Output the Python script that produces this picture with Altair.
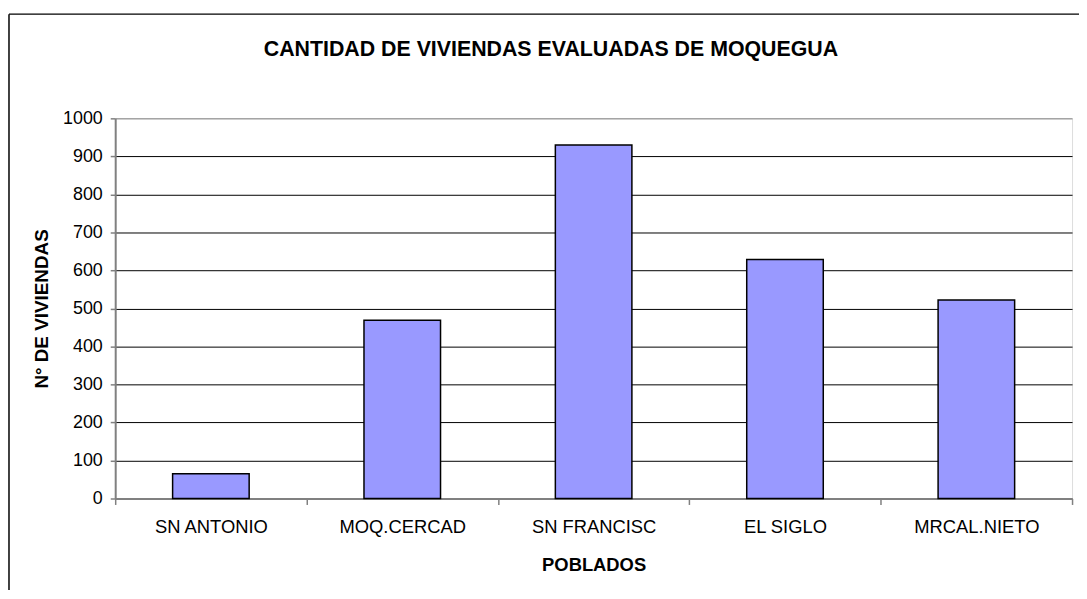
import altair as alt
import pandas as pd

titulo = ["CANTIDAD DE VIVIENDAS EVALUADAS DE MOQUEGUA"]
poblados = ["SN ANTONIO", "MOQ.CERCAD", "SN FRANCISC", "EL SIGLO", "MRCAL.NIETO"]
viviendas = [65, 469, 930, 629, 522]
y_ticks = [0, 100, 200, 300, 400, 500, 600, 700, 800, 900, 1000]

df = pd.DataFrame({"poblado": poblados, "viviendas": viviendas})
df_title = pd.DataFrame({"titulo": titulo})

FONT = "Liberation Sans"
W, H = 964, 383

bars = alt.Chart(df).mark_bar(
    width={"band": 0.4}, color="#9999FF", stroke="#000000", strokeWidth=1.5
).encode(
    x=alt.X(
        "poblado:N",
        sort=poblados,
        scale=alt.Scale(paddingInner=0, paddingOuter=0),
        axis=alt.Axis(
            title="POBLADOS",
            labelAngle=0,
            labelFont=FONT,
            labelFontSize=18.5,
            labelColor="#000000",
            labelPadding=13,
            tickBand="extent",
            tickSize=6,
            tickColor="#808080",
            tickWidth=1.5,
            domainColor="#808080",
            domainWidth=2,
            grid=False,
            titleFont=FONT,
            titleFontSize=18.5,
            titleFontWeight="bold",
            titleColor="#000000",
            titleY=67,
            titleBaseline="middle",
        ),
    ),
    y=alt.Y(
        "viviendas:Q",
        scale=alt.Scale(domain=[0, 1000], nice=False),
        axis=alt.Axis(
            title="N° DE VIVIENDAS",
            values=y_ticks,
            format="d",
            labelFont=FONT,
            labelFontSize=18,
            labelColor="#000000",
            labelPadding=8,
            tickSize=5,
            tickColor="#808080",
            tickWidth=1.5,
            domainColor="#808080",
            domainWidth=2,
            grid=True,
            gridColor={"condition": {"test": "datum.value === 1000", "value": "#808080"}, "value": "#000000"},
            gridWidth=1,
            titleFont=FONT,
            titleFontSize=19,
            titleFontWeight="bold",
            titleColor="#000000",
            titleAngle=-90,
            titleX=-74,
            titleY=H / 2,
            titleAlign="center",
            titleBaseline="middle",
        ),
    ),
)

title_text = alt.Chart(df_title).mark_text(
    font=FONT, fontSize=21.5, fontWeight="bold", color="#000000",
    align="center", baseline="middle"
).encode(
    text="titulo:N", x=alt.value(439), y=alt.value(-69)
)

frame_left = alt.Chart(df_title).mark_rule(color="#000000", strokeWidth=1.5).encode(
    x=alt.value(-107), y=alt.value(-105), y2=alt.value(H + 200)
)
frame_top = alt.Chart(df_title).mark_rule(color="#000000", strokeWidth=1.5).encode(
    x=alt.value(-107), x2=alt.value(W + 200), y=alt.value(-105)
)

chart = alt.layer(frame_left, frame_top, title_text, bars).properties(
    width=W,
    height=H,
    autosize=alt.AutoSizeParams(type="none"),
    padding={"left": 108, "top": 109, "right": 7, "bottom": 90},
).configure_view(
    stroke="#808080", strokeWidth=2, fill="#FFFFFF"
).configure(background="#FFFFFF")

chart.save("out.html", embed_options={"renderer": "svg", "actions": False})
